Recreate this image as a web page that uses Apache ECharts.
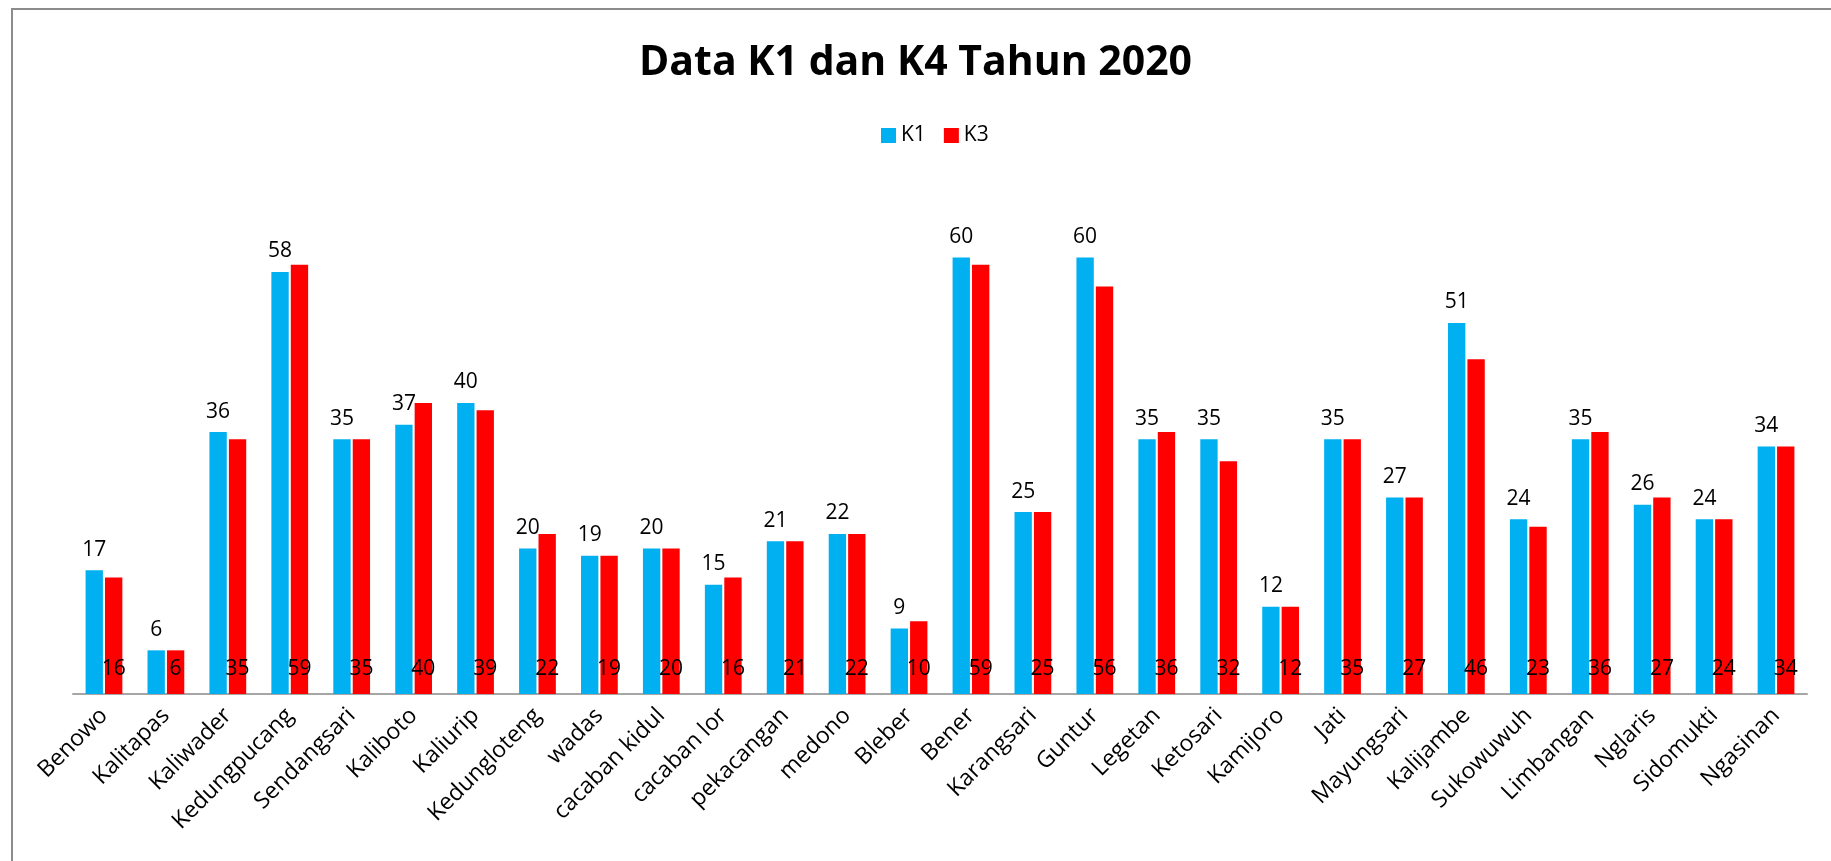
<!DOCTYPE html>
<html lang="id">
<head>
    <meta charset="UTF-8">
    <title>Data K1 dan K4 Tahun 2020</title>
    <script type="text/javascript" src="https://cdn.jsdelivr.net/npm/echarts@6/dist/echarts.min.js"></script>
    <style>
        html,body{
            margin: 0;
            padding: 0;
            background: #fff;
            overflow: hidden;
        }
        #chart{
            width: 1831px;
            height: 861px;
        }
    </style>
</head>
<body>
    <div id="chart"></div>
<script>
    var desa=["Benowo","Kalitapas","Kaliwader","Kedungpucang","Sendangsari","Kaliboto","Kaliurip","Kedungloteng","wadas","cacaban kidul","cacaban lor","pekacangan","medono","Bleber","Bener","Karangsari","Guntur","Legetan","Ketosari","Kamijoro","Jati","Mayungsari","Kalijambe","Sukowuwuh","Limbangan","Nglaris","Sidomukti","Ngasinan"];
    var dataK1=[17,6,36,58,35,37,40,20,19,20,15,21,22,9,60,25,60,35,35,12,35,27,51,24,35,26,24,34];
    var dataK3=[16,6,35,59,35,40,39,22,19,20,16,21,22,10,59,25,56,36,32,12,35,27,46,23,36,27,24,34];

    var fontName='"Open Sans",sans-serif';
    var chart=echarts.init(document.getElementById("chart"));
    var option={
        backgroundColor:'#fff',
        animation:false,
        // bingkai abu-abu di kiri dan atas
        graphic:[{
            type:'rect',
            shape:{x:12,y:9,width:1840,height:880},
            style:{fill:'none',stroke:'#8c8c8c',lineWidth:2}
        }],
        title:{
            text:'Data K1 dan K4 Tahun 2020',
            left:'center',
            top:38,
            textStyle:{
                fontFamily:fontName,
                fontSize:41,
                fontWeight:'bold',
                color:'#000'
            }
        },
        legend:{
            data:['K1','K3'],
            left:876,
            top:120,
            itemWidth:15,
            itemHeight:15,
            itemGap:18,
            icon:'rect',
            textStyle:{fontFamily:fontName,fontSize:21,color:'#000'}
        },
        grid:{
            left:73,
            right:24,
            top:221,
            bottom:167,
            containLabel:false
        },
        xAxis:{
            type:'category',
            data:desa,
            axisLine:{lineStyle:{color:'#a6a6a6',width:2}},
            axisTick:{show:false},
            axisLabel:{
                interval:0,
                rotate:45,
                margin:18,
                fontFamily:fontName,
                fontSize:23,
                color:'#000'
            }
        },
        yAxis:{
            type:'value',
            min:0,
            max:65,
            show:false,
            splitLine:{show:false}
        },
        series:[{
            name:'K1',
            type:'bar',
            data:dataK1,
            barWidth:'28%',
            barGap:'12%',
            itemStyle:{color:'#00b0f0'},
            label:{
                show:true,
                position:'top',
                distance:10,
                fontFamily:fontName,
                fontSize:21,
                color:'#000'
            }
        },{
            name:'K3',
            type:'bar',
            data:dataK3,
            barWidth:'28%',
            itemStyle:{color:'#ff0000'},
            label:{
                show:true,
                position:'insideBottom',
                distance:14,
                fontFamily:fontName,
                fontSize:21,
                color:'#000'
            }
        }]
    };
    chart.setOption(option);
</script>
</body>
</html>
